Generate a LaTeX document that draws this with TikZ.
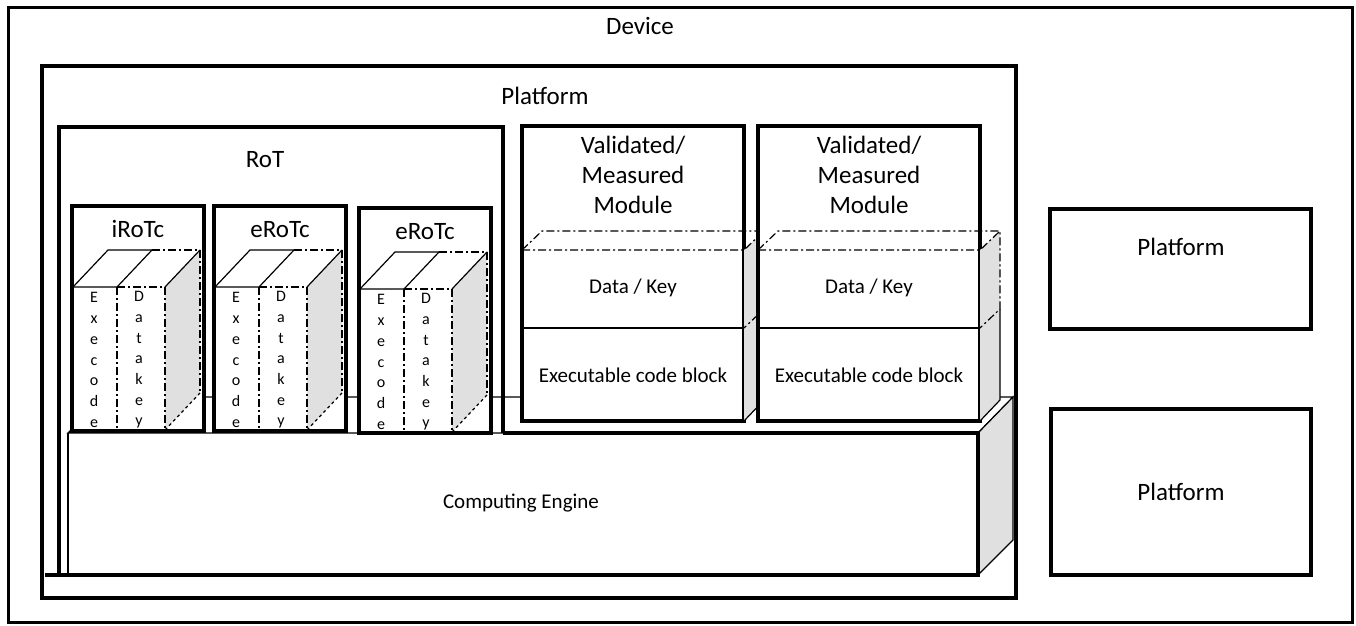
\documentclass[tikz,border=0pt]{standalone}
\usepackage{fontspec}
\setmainfont{Carlito}
\tikzset{boxNode/.style={draw, line width=4pt, fill=white, inner sep=0pt}}
\tikzset{bigText/.style={font=\fontsize{25}{30}\selectfont, align=center, inner sep=0pt}}
\tikzset{smallText/.style={font=\fontsize{21}{25}\selectfont, align=center, inner sep=0pt}}
\tikzset{letterStack/.style={font=\fontsize{16}{20.7}\selectfont, align=center, inner sep=0pt}}
\tikzset{dashDot/.style={dash pattern=on 8pt off 3pt on 2pt off 3pt}}
\tikzset{thinLine/.style={line width=1.2pt}}
\definecolor{sideGray}{RGB}{224,224,224}

\begin{document}
\begin{tikzpicture}[x=1pt, y=-1pt]

\useasboundingbox (0,0) rectangle (1356,625);

% Outer frames
\node[boxNode, line width=3pt, minimum width=1344pt, minimum height=615pt] (device) at (680,314.5) {};
\node[bigText] (deviceText) at (640,26) {Device};

\node[boxNode, minimum width=974pt, minimum height=532pt] (platOuter) at (529,332) {};
\node[bigText] (platOuterText) at (545,96) {Platform};

\node[boxNode, minimum width=261pt, minimum height=120pt] (platUpper) at (1180.5,269) {};
\node[bigText] (platUpperText) at (1181,247) {Platform};
\node[boxNode, minimum width=260pt, minimum height=166pt] (platLower) at (1181,492) {};
\node[bigText] (platLowerText) at (1181,492) {Platform};

% Computing engine
\filldraw[thinLine, fill=white] (68,433) -- (103,397) -- (1013,397) -- (978,433) -- cycle;
\filldraw[thinLine, fill=sideGray] (978,433) -- (1013,397) -- (1013,540) -- (978,575) -- cycle;
\draw[thinLine] (68,433) -- (68,575);
\draw[line width=4pt] (503,433) -- (978,433) -- (978,575) -- (45,575);
\node[smallText] (engineText) at (521,503) {Computing Engine};

% RoT
\draw[line width=4pt] (59,575) -- (59,127) -- (503,127) -- (503,433);
\node[bigText] (rotText) at (265,160) {RoT};

% iRoTc
\node[boxNode, minimum width=132pt, minimum height=225pt] (iRoTc) at (138,318.5) {};
\node[bigText, anchor=base] (iRoTcText) at (138,237) {iRoTc};
\begin{scope}[thinLine]
  \fill[sideGray] (165,287) -- (200,250) -- (200,393) -- (165,430) -- cycle;
  \draw (73,430) -- (73,287) -- (108,250) -- (152,250);
  \draw (73,287) -- (117,287) -- (152,250);
  \draw (165,287) -- (200,250);
  \draw[dashDot] (117,287) -- (165,287) (152,250) -- (200,250)
    (117,287) -- (117,430) (165,287) -- (165,430) (200,250) -- (200,393);
  \draw[dashed] (165,430) -- (200,393);
\end{scope}
\node[letterStack] (iExe) at (94,360) {E\\x\\e\\c\\o\\d\\e};
\node[letterStack] (iKey) at (139,360) {D\\a\\t\\a\\k\\e\\y};

% eRoTc
\node[boxNode, minimum width=132pt, minimum height=225pt] (eRoTcA) at (280,318.5) {};
\node[bigText, anchor=base] (eRoTcAText) at (280,237) {eRoTc};
\begin{scope}[thinLine, xshift=142pt]
  \fill[sideGray] (165,287) -- (200,250) -- (200,393) -- (165,430) -- cycle;
  \draw (73,430) -- (73,287) -- (108,250) -- (152,250);
  \draw (73,287) -- (117,287) -- (152,250);
  \draw (165,287) -- (200,250);
  \draw[dashDot] (117,287) -- (165,287) (152,250) -- (200,250)
    (117,287) -- (117,430) (165,287) -- (165,430) (200,250) -- (200,393);
  \draw[dashed] (165,430) -- (200,393);
\end{scope}
\node[letterStack] (eExeA) at (236,360) {E\\x\\e\\c\\o\\d\\e};
\node[letterStack] (eKeyA) at (281,360) {D\\a\\t\\a\\k\\e\\y};

% eRoTc
\node[boxNode, minimum width=132pt, minimum height=225pt] (eRoTcB) at (425,320.5) {};
\node[bigText, anchor=base] (eRoTcBText) at (425,239) {eRoTc};
\begin{scope}[thinLine, xshift=287pt, yshift=-2pt]
  \fill[sideGray] (165,287) -- (200,250) -- (200,393) -- (165,430) -- cycle;
  \draw (73,430) -- (73,287) -- (108,250) -- (152,250);
  \draw (73,287) -- (117,287) -- (152,250);
  \draw (165,287) -- (200,250);
  \draw[dashDot] (117,287) -- (165,287) (152,250) -- (200,250)
    (117,287) -- (117,430) (165,287) -- (165,430) (200,250) -- (200,393);
  \draw[dashed] (165,430) -- (200,393);
\end{scope}
\node[letterStack] (eExeB) at (381,362) {E\\x\\e\\c\\o\\d\\e};
\node[letterStack] (eKeyB) at (426,362) {D\\a\\t\\a\\k\\e\\y};

% Validated / measured modules
\node[boxNode, minimum width=222pt, minimum height=295pt] (modA) at (633,273.5) {};
\begin{scope}[thinLine]
  \fill[sideGray] (744,250) -- (764,231) -- (764,400) -- (744,421) -- cycle;
  \draw (764,309) -- (764,400) -- (744,421);
  \draw (522,328) -- (744,328);
  \draw[dashDot] (522,250) -- (542,231) -- (764,231) -- (764,309) -- (744,328);
  \draw[dashDot] (522,250) -- (744,250) -- (764,231);
\end{scope}
\node[bigText] (modAText) at (633,175) {Validated/\\Measured\\Module};
\node[smallText] (modAKey) at (633,288) {Data / Key};
\node[smallText] (modACode) at (633,375) {Executable code block};

\node[boxNode, minimum width=222pt, minimum height=295pt] (modB) at (869,273.5) {};
\begin{scope}[thinLine, xshift=236pt]
  \fill[sideGray] (744,250) -- (764,231) -- (764,400) -- (744,421) -- cycle;
  \draw (764,309) -- (764,400) -- (744,421);
  \draw (522,328) -- (744,328);
  \draw[dashDot] (522,250) -- (542,231) -- (764,231) -- (764,309) -- (744,328);
  \draw[dashDot] (522,250) -- (744,250) -- (764,231);
\end{scope}
\node[bigText] (modBText) at (869,175) {Validated/\\Measured\\Module};
\node[smallText] (modBKey) at (869,288) {Data / Key};
\node[smallText] (modBCode) at (869,375) {Executable code block};

\end{tikzpicture}
\end{document}
